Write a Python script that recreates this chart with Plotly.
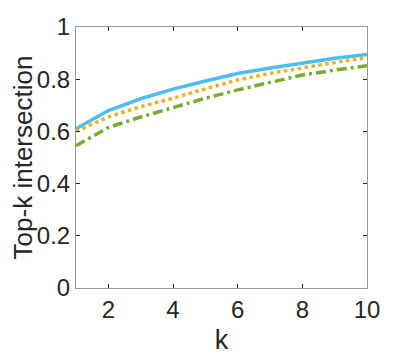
import plotly.graph_objects as go

k = [1, 2, 3, 4, 5, 6, 7, 8, 9, 10]
blue_vals = [0.61, 0.68, 0.725, 0.762, 0.793, 0.822, 0.843, 0.863, 0.88, 0.895]
orange_vals = [0.60, 0.655, 0.695, 0.727, 0.763, 0.797, 0.822, 0.844, 0.864, 0.882]
green_vals = [0.545, 0.615, 0.655, 0.691, 0.727, 0.759, 0.787, 0.816, 0.835, 0.852]
x_ticks = [2, 4, 6, 8, 10]
y_ticks = [0, 0.2, 0.4, 0.6, 0.8, 1]
y_tick_text = ["0", "0.2", "0.4", "0.6", "0.8", "1"]

FONT = "Liberation Sans, Arial"
fig = go.Figure()
fig.add_trace(go.Scatter(x=k, y=blue_vals, mode="lines",
                         line=dict(color="#4DBEEE", width=3.5, dash="solid")))
fig.add_trace(go.Scatter(x=k, y=orange_vals, mode="lines",
                         line=dict(color="#EDB120", width=3.5, dash="3.5px,3.5px")))
fig.add_trace(go.Scatter(x=k, y=green_vals, mode="lines",
                         line=dict(color="#77AC30", width=3.5, dash="10px,4px,3px,4px")))

axis_common = dict(showline=True, linecolor="#999999", linewidth=1, mirror="ticks",
                   ticks="inside", ticklen=4, tickcolor="#262626", showgrid=False,
                   zeroline=False, automargin=False,
                   tickfont=dict(family=FONT, size=24, color="#262626"))
fig.update_layout(
    width=405, height=357, showlegend=False,
    paper_bgcolor="white", plot_bgcolor="white",
    margin=dict(l=68, r=46, t=19, b=77),
    xaxis=dict(range=[1, 10], tickvals=x_ticks, title=dict(text="k", standoff=8,
               font=dict(family=FONT, size=27, color="#262626")), **axis_common),
    yaxis=dict(range=[0, 1], tickvals=y_ticks, ticktext=y_tick_text,
               title=dict(text="Top-k intersection", standoff=10,
                          font=dict(family=FONT, size=26, color="#262626")), **axis_common),
)
fig.write_html("out.html")
